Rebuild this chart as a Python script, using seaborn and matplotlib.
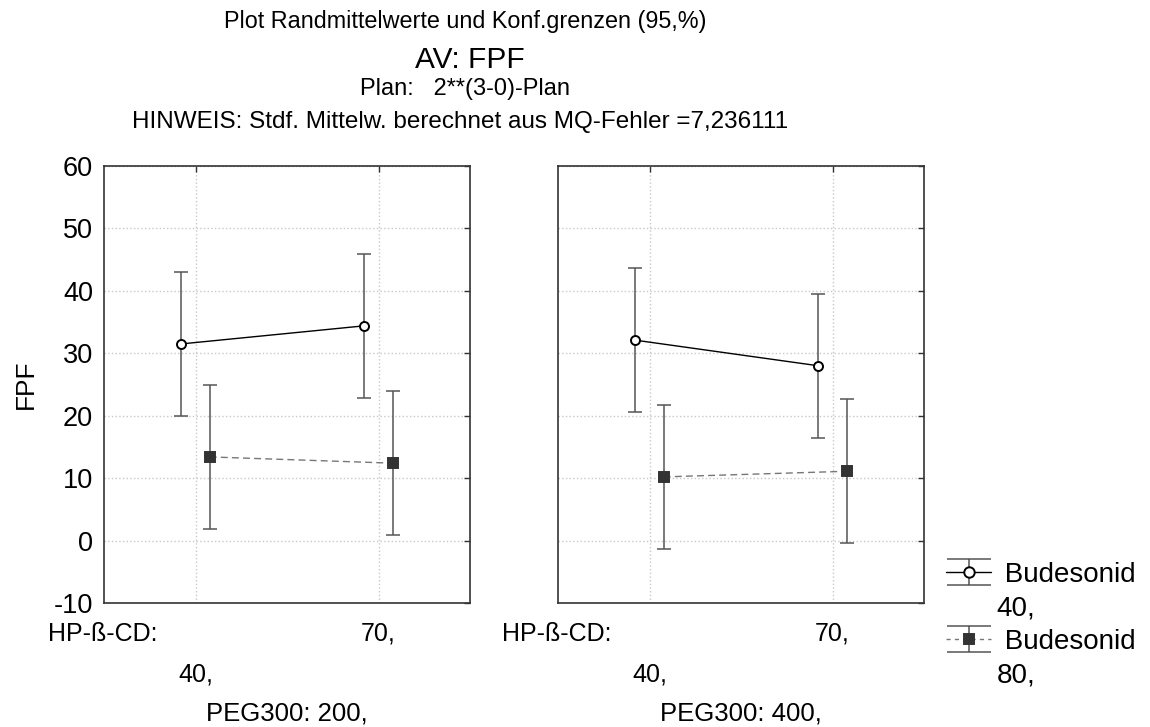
import pandas as pd
import seaborn as sns
import matplotlib.pyplot as plt
from matplotlib.lines import Line2D
from matplotlib.path import Path

peg300 = ["200,", "400,"]
hp_cd = ["40,", "70,"]
budesonid = ["40,", "80,"]

# Randmittelwerte FPF, Reihenfolge HP-ß-CD 40, 70
fpf_peg200_bud40 = [31.5, 34.4]
fpf_peg200_bud80 = [13.4, 12.4]
fpf_peg400_bud40 = [32.1, 28.0]
fpf_peg400_bud80 = [10.2, 11.1]
ci95 = 11.55  # halbe Breite der 95%-Konfidenzgrenzen (aus MQ-Fehler)

rows = []
for peg, b40, b80 in [(peg300[0], fpf_peg200_bud40, fpf_peg200_bud80),
                      (peg300[1], fpf_peg400_bud40, fpf_peg400_bud80)]:
    for bud, vals in zip(budesonid, [b40, b80]):
        for hp, v in zip(hp_cd, vals):
            rows.append({"PEG300": peg, "HP-ß-CD": hp, "Budesonid": bud, "FPF": v})
df = pd.DataFrame(rows)

sns.set_style("white")
plt.rcParams["font.family"] = ["Liberation Sans", "DejaVu Sans"]
plt.rcParams["axes.unicode_minus"] = False
plt.rcParams["text.color"] = "black"
plt.rcParams["axes.labelcolor"] = "black"
plt.rcParams["xtick.labelcolor"] = "black"
plt.rcParams["ytick.labelcolor"] = "black"

W, H = 1150, 727
fig, axes = plt.subplots(1, 2, figsize=(W / 100, H / 100), dpi=100, sharey=True)
fig.subplots_adjust(left=104 / W, right=924 / W, bottom=1 - 603 / H, top=1 - 166 / H, wspace=88 / 366)

for ax, peg in zip(axes, peg300):
    sub = df[df["PEG300"] == peg]
    sns.pointplot(data=sub, x="HP-ß-CD", y="FPF", hue="Budesonid",
                  order=hp_cd, hue_order=budesonid, palette=["black", "#333333"],
                  markers=["o", "s"], linestyles=["-", "--"], dodge=0.155,
                  errorbar=None, markersize=6.5, markeredgewidth=1.4, linewidth=1.0,
                  legend=False, ax=ax)
    for line in list(ax.lines):
        if line.get_marker() == "o":
            line.set_markerfacecolor("white")
        elif line.get_marker() == "s":
            line.set_color("#777777")
            line.set_dashes([5, 3])
            line.set_markerfacecolor("#333333")
            line.set_markeredgecolor("#333333")
        else:
            continue
        line.set_zorder(4)
        # Konfidenzgrenzen an den von seaborn gesetzten Positionen
        ax.errorbar(line.get_xdata(), line.get_ydata(), yerr=ci95, fmt="none",
                    ecolor="#555555", elinewidth=1.1, capsize=5, capthick=1.1, zorder=3)

    ax.set_xlim(-0.5, 1.5)
    ax.set_ylim(-10, 60)
    ax.set_yticks(range(-10, 61, 10))
    ax.grid(True, color="#c8c8c8", linestyle=":", linewidth=1.0)
    ax.tick_params(direction="in", length=4, width=1, top=True, right=True,
                   color="#333333", pad=8)
    ax.tick_params(axis="y", labelsize=19.5)
    ax.tick_params(axis="x", labelsize=18, pad=13)
    for s in ax.spines.values():
        s.set_visible(True)
        s.set_color("#333333")
        s.set_linewidth(1.2)
    ax.set_xticks([0, 1])
    ax.set_xticklabels(["\n" + hp_cd[0], hp_cd[1]], linespacing=1.9)
    ax.text(-0.153, -0.0435, "HP-ß-CD:", transform=ax.transAxes,
            ha="left", va="top", fontsize=18)
    ax.set_xlabel(f"PEG300: {peg}", fontsize=18.5)
    ax.xaxis.set_label_coords(0.5, -0.2265)
    ax.set_ylabel("")

axes[0].set_ylabel("FPF", fontsize=19)
axes[0].yaxis.set_label_coords(-0.18, 0.5)

cx = 465 / W
fig.text(cx, 1 - 28 / H, "Plot Randmittelwerte und Konf.grenzen (95,%)",
         ha="center", va="baseline", fontsize=16.8)
fig.text(cx + 5 / W, 1 - 68 / H, "AV: FPF", ha="center", va="baseline", fontsize=21.5)
fig.text(cx, 1 - 95 / H, "Plan:   2**(3-0)-Plan", ha="center", va="baseline", fontsize=17)
fig.text(cx - 5 / W, 1 - 128 / H, "HINWEIS: Stdf. Mittelw. berechnet aus MQ-Fehler =7,236111",
         ha="center", va="baseline", fontsize=17.5)

# Legende mit Fehlerbalken-Symbol
cap_path = Path([(-1, 0.6), (1, 0.6), (0, 0.6), (0, -0.6), (-1, -0.6), (1, -0.6)],
                [Path.MOVETO, Path.LINETO, Path.MOVETO, Path.LINETO, Path.MOVETO, Path.LINETO])


def entry(color, ls, marker, face, edge):
    caps = Line2D([], [], linestyle="none", marker=cap_path, markersize=32,
                  markerfacecolor="none", markeredgecolor="#555555", markeredgewidth=1.1)
    main = Line2D([], [], color=color, linestyle=ls, linewidth=1.0, marker=marker,
                  markersize=7.5, markerfacecolor=face, markeredgecolor=edge,
                  markeredgewidth=1.4)
    return (caps, main)


blank = Line2D([], [], linestyle="none")
handles = [entry("black", "-", "o", "white", "black"), blank,
           entry("#777777", (0, (3, 3)), "s", "#333333", "#333333"), blank]
labels = [" Budesonid", budesonid[0], " Budesonid", budesonid[1]]
fig.legend(handles, labels, loc="upper left", bbox_to_anchor=(946 / W, 1 - 562 / H),
           frameon=False, fontsize=20, handlelength=1.62, handletextpad=0.2,
           labelspacing=0.27, borderpad=0, borderaxespad=0)

fig.savefig("out.png", dpi=100)
